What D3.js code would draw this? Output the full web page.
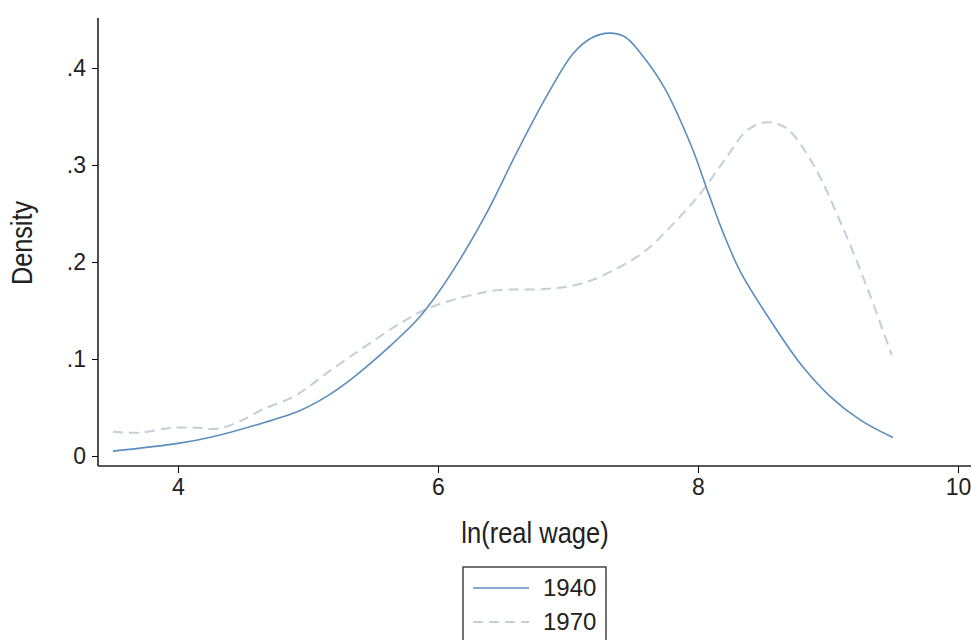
<!DOCTYPE html>
<html>
<head>
<meta charset="utf-8">
<script src="https://cdn.jsdelivr.net/npm/d3@7"></script>
<style>
  body { margin: 0; background: #fff; }
  svg { display: block; font-family: "Liberation Sans", Arial, sans-serif; }
  .tick text { fill: #222; }
</style>
</head>
<body>
<svg width="971" height="640"></svg>
<script>
// kernel density estimates
const wage1940 = [3.5, 4.0, 4.26, 4.6, 4.94, 5.15, 5.33, 5.62, 5.85, 6.0, 6.18, 6.38, 6.61, 6.84, 7.04, 7.18, 7.32, 7.44, 7.56, 7.74, 7.95, 8.08, 8.2, 8.33, 8.59, 8.8, 9.02, 9.25, 9.5];
const dens1940 = [.005, .013, .0196, .032, .047, .062, .079, .112, .142, .168, .205, .252, .314, .372, .415, .431, .436, .432, .415, .380, .319, .271, .228, .189, .133, .093, .061, .037, .019];

const wage1970 = [3.5, 3.7, 3.95, 4.15, 4.3, 4.48, 4.65, 4.9, 5.17, 5.44, 5.7, 5.92, 6.2, 6.46, 6.8, 7.05, 7.25, 7.58, 7.8, 8.02, 8.22, 8.38, 8.53, 8.68, 8.88, 9.09, 9.3, 9.49];
const dens1970 = [.025, .024, .029, .029, .028, .036, .048, .062, .088, .113, .136, .152, .164, .171, .172, .176, .185, .210, .238, .271, .308, .336, .344, .338, .302, .243, .174, .104];

const xTicks = [4, 6, 8, 10];
const yTicks = [0, .1, .2, .3, .4];
const years = ["1940", "1970"];

const series = [
  { year: years[0], pts: wage1940.map((w, i) => ({ x: w, y: dens1940[i] })), color: "#5b8ebf", dash: null, width: 1.6 },
  { year: years[1], pts: wage1970.map((w, i) => ({ x: w, y: dens1970[i] })), color: "#c3cfd8", dash: "10,6", width: 2 }
];

const svg = d3.select("svg");
const plotLeft = 98, plotBottom = 466, plotTop = 18;

const x = d3.scaleLinear().domain([4, 10]).range([178, 958]);
const y = d3.scaleLinear().domain([0, .4]).range([456, 68]);

// axes
const xAxis = svg.append("g")
  .attr("transform", `translate(0,${plotBottom})`)
  .call(d3.axisBottom(x).tickValues(xTicks).tickSize(7).tickPadding(6).tickFormat(d3.format("d")));
xAxis.select(".domain").remove();
xAxis.append("line").attr("x1", plotLeft).attr("x2", 971).attr("stroke", "#222").attr("stroke-width", 1.6);
xAxis.selectAll(".tick text").attr("font-size", 23);

const yAxis = svg.append("g")
  .attr("transform", `translate(${plotLeft},0)`)
  .call(d3.axisLeft(y).tickValues(yTicks).tickSize(6).tickPadding(6)
    .tickFormat(d => d === 0 ? "0" : d3.format(".1f")(d).replace(/^0/, "")));
yAxis.select(".domain").remove();
yAxis.append("line").attr("y1", plotTop).attr("y2", plotBottom).attr("stroke", "#222").attr("stroke-width", 1.6);
yAxis.selectAll(".tick text").attr("font-size", 23);

// titles are a touch condensed in the original
svg.append("text")
  .attr("transform", "translate(535,543) scale(0.88,1)")
  .attr("text-anchor", "middle")
  .attr("font-size", 29)
  .attr("fill", "#222")
  .text("ln(real wage)");

svg.append("text")
  .attr("transform", "translate(32,243) rotate(-90) scale(0.87,1)")
  .attr("text-anchor", "middle")
  .attr("font-size", 29)
  .attr("fill", "#222")
  .text("Density");

// density lines
const line = d3.line()
  .x(d => x(d.x))
  .y(d => y(d.y))
  .curve(d3.curveCatmullRom.alpha(0.5));

svg.selectAll(".dens").data(series.slice().reverse())
  .join("path")
  .attr("class", "dens")
  .attr("fill", "none")
  .attr("stroke", d => d.color)
  .attr("stroke-width", d => d.width)
  .attr("stroke-dasharray", d => d.dash)
  .attr("d", d => line(d.pts));

// legend
const legend = svg.append("g").attr("transform", "translate(463,567)");
legend.append("rect")
  .attr("width", 143).attr("height", 90)
  .attr("fill", "#fff").attr("stroke", "#444").attr("stroke-width", 1.5);

const item = legend.selectAll(".item").data(series)
  .join("g")
  .attr("class", "item")
  .attr("transform", (d, i) => `translate(0,${21 + i * 34})`);
item.append("line")
  .attr("x1", 10).attr("x2", 66)
  .attr("stroke", d => d.color)
  .attr("stroke-width", d => d.width)
  .attr("stroke-dasharray", d => d.dash);
item.append("text")
  .attr("x", 80).attr("y", 8)
  .attr("font-size", 24)
  .attr("fill", "#222")
  .text(d => d.year);
</script>
</body>
</html>
